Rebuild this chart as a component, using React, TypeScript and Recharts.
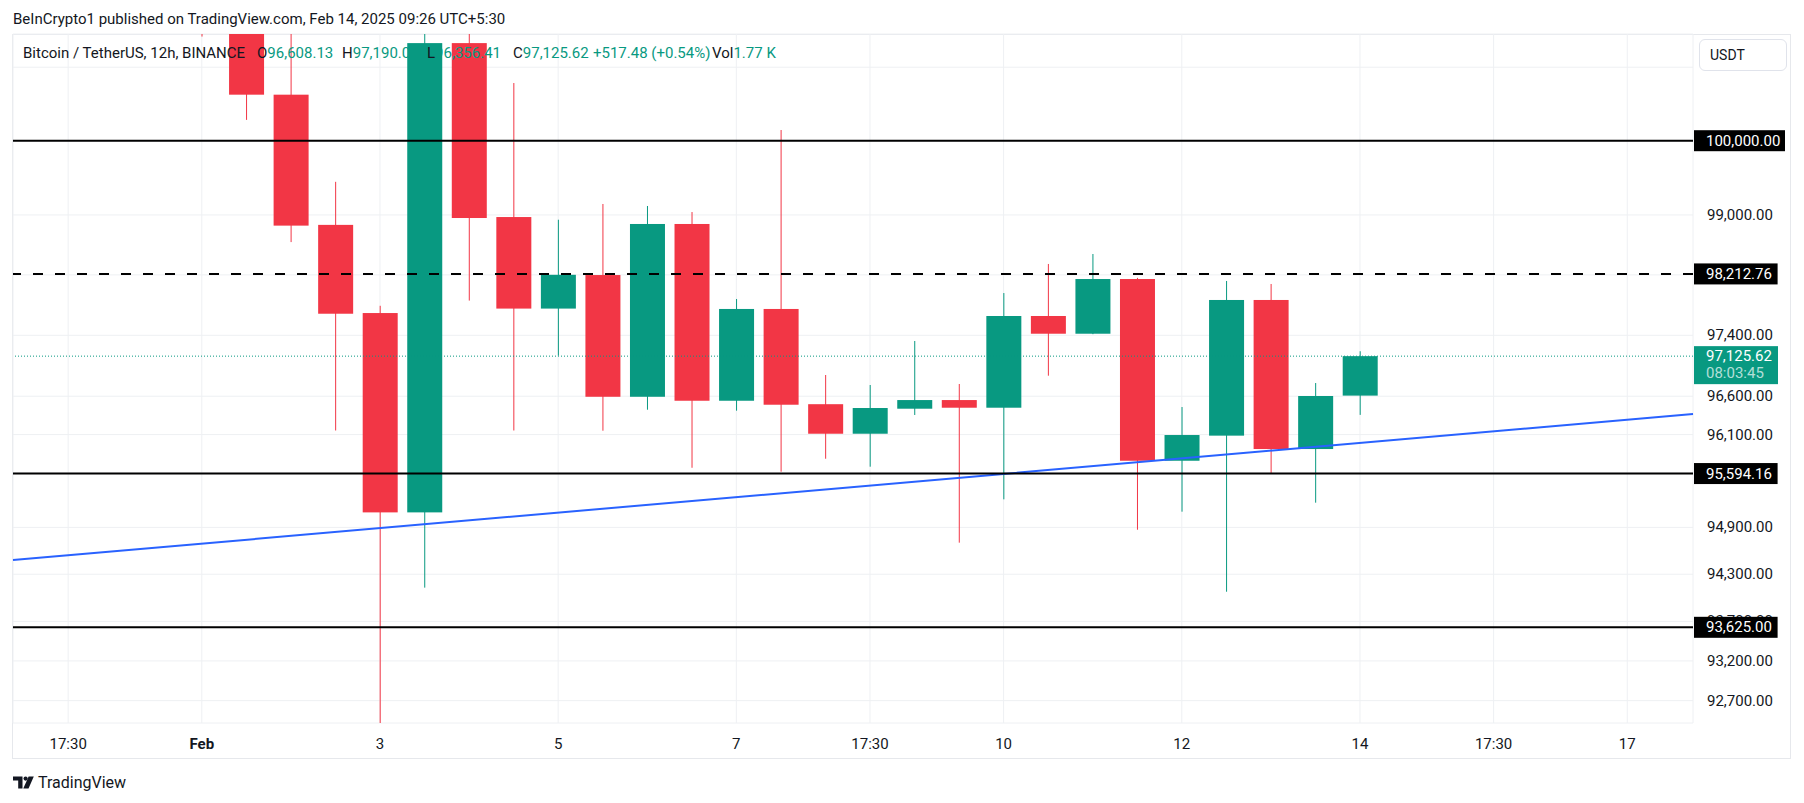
import React from 'react'
import {
  ComposedChart, Bar, XAxis, YAxis, CartesianGrid, ReferenceLine,
} from 'recharts'

// 12h BTCUSDT candles, slot 0 = Feb 1 05:30 (UTC+5:30)
const slots = [0, 1, 2, 3, 4, 5, 6, 7, 8, 9, 10, 11, 12, 13, 14, 15, 16, 17, 18, 19, 20, 21, 22, 23, 24, 25, 26]
const opens = [102430, 101760, 100625, 98867, 97694, 95093, 101330, 98972, 97753, 98198, 96593, 98879, 96541, 97748, 96496, 96111, 96437, 96550, 96450, 97655, 97421, 98145, 95760, 96086, 97867, 95912, 96608.13]
const highs = [102840, 102000, 101500, 99445, 97790, 101800, 102500, 100784, 98936, 99147, 99120, 99039, 97880, 100145, 96878, 96747, 97325, 96760, 97959, 98345, 98478, 98160, 96459, 98119, 98079, 96773, 97190.05]
const lows = [101420, 100282, 98637, 96153, 91230, 94129, 97859, 96153, 97132, 96150, 96424, 95669, 96411, 95618, 95786, 95683, 96355, 94704, 95261, 96869, 97415, 94870, 95102, 94077, 95597, 95218, 96356.41]
const closes = [101760, 100625, 98857, 97685, 95093, 101330, 98959, 97753, 98201, 96593, 98879, 96541, 97748, 96489, 96111, 96446, 96550, 96450, 97655, 97421, 98145, 95760, 96094, 97867, 95912, 96603, 97125.62]

const timeTicks = [-3, 0, 4, 8, 12, 15, 18, 22, 26, 29, 32]
const timeLabels = ['17:30', 'Feb', '3', '5', '7', '17:30', '10', '12', '14', '17:30', '17']
const slotDomain = [-4.238, 33.476]

const priceTicks = [101000, 100000, 99000, 98200, 97400, 96600, 96100, 95600, 94900, 94300, 93700, 93200, 92700]
const hiddenPriceLabels = [101000]
const priceDomain = [92420, 101455]

const levelPrices = [100000, 98212.76, 95594.16, 93625]
const levelLabels = ['100,000.00', '98,212.76', '95,594.16', '93,625.00']
const levelDashed = [false, true, false, false]

const lastPrice = 97125.62
const lastPriceLabel = '97,125.62'
const countdown = '08:03:45'

const trendSlots = [-4.238, 33.476]
const trendPrices = [94482, 96368]

const legendItems = [
  { key: '', val: 'Bitcoin / TetherUS, 12h, BINANCE' },
  { key: 'O', val: '96,608.13' },
  { key: 'H', val: '97,190.05' },
  { key: 'L', val: '96,356.41' },
  { key: 'C', val: '97,125.62' },
  { key: '', val: '+517.48 (+0.54%)' },
  { key: 'Vol', val: '1.77 K' },
]
const legendX = [23, 257, 342, 427, 513, 593, 712]

const GREEN = '#089981'
const RED = '#F23645'
const TEXT = '#131722'
const FONT = 'Roboto, "Noto Sans", sans-serif'

const rows = slots.map((s, i) => ({
  slot: s,
  open: opens[i],
  high: highs[i],
  low: lows[i],
  close: closes[i],
  range: [lows[i], highs[i]],
}))

const CHART_W = 1804
const CHART_H = 803
const MARGIN = { top: 34, left: 13, right: 0, bottom: 0 }

function fmtPrice(v: number) {
  return v.toLocaleString('en-US', { minimumFractionDigits: 2, maximumFractionDigits: 2 })
}

function Candle(props: any) {
  const { x, y, width, height, payload } = props
  if (x == null || y == null || !payload) return null
  const top = Math.min(y, y + height)
  const bottom = Math.max(y, y + height)
  const lh = Math.log(payload.high)
  const span = lh - Math.log(payload.low)
  // log scale: position is linear in ln(price) between the wick ends
  const at = (p: number) => top + ((lh - Math.log(p)) / span) * (bottom - top)
  const color = payload.close >= payload.open ? GREEN : RED
  const cx = x + width / 2
  const yo = at(payload.open)
  const yc = at(payload.close)
  return (
    <g>
      <line x1={cx} x2={cx} y1={top} y2={bottom} stroke={color} strokeWidth={1} />
      <rect x={x} y={Math.min(yo, yc)} width={width} height={Math.max(1, Math.abs(yc - yo))} fill={color} />
    </g>
  )
}

function TimeTick(props: any) {
  const { x, y, payload } = props
  const idx = timeTicks.indexOf(payload.value)
  const label = timeLabels[idx] ?? ''
  return (
    <text x={x} y={y + 19} textAnchor="middle" dominantBaseline="central"
      fontSize={15} fontFamily={FONT} fill={TEXT} fontWeight={label === 'Feb' ? 700 : 400}>
      {label}
    </text>
  )
}

function PriceTick(props: any) {
  const { x, y, payload } = props
  if (hiddenPriceLabels.includes(payload.value)) return null
  return (
    <text x={x + 12} y={y} textAnchor="start" dominantBaseline="central"
      fontSize={15} fontFamily={FONT} fill={TEXT}>
      {fmtPrice(payload.value)}
    </text>
  )
}

function PriceTag(props: any) {
  const { viewBox, text } = props
  if (!viewBox) return null
  const x0 = viewBox.x + viewBox.width + 1
  const yc = viewBox.y
  const w = text.length * 7.4 + 17
  return (
    <g>
      <rect x={x0} y={yc - 10.5} width={w} height={21} fill="#000" />
      <text x={x0 + 12} y={yc} dominantBaseline="central" fontSize={15} fontFamily={FONT} fill="#fff">{text}</text>
    </g>
  )
}

function LastTag(props: any) {
  const { viewBox } = props
  if (!viewBox) return null
  const x0 = viewBox.x + viewBox.width + 1
  const yc = viewBox.y
  return (
    <g>
      <rect x={x0} y={yc - 10} width={84} height={38} fill={GREEN} />
      <text x={x0 + 12} y={yc} dominantBaseline="central" fontSize={15} fontFamily={FONT} fill="#fff">{lastPriceLabel}</text>
      <text x={x0 + 12} y={yc + 17} dominantBaseline="central" fontSize={15} fontFamily={FONT} fill="rgba(255,255,255,0.7)">{countdown}</text>
    </g>
  )
}

export default function App() {
  return (
    <div style={{ position: 'relative', width: 1804, height: 803, background: '#fff', fontFamily: FONT, color: TEXT, overflow: 'hidden' }}>
      <style>{'body{margin:0}'}</style>

      <div style={{ position: 'absolute', left: 13, top: 9, fontSize: 15, lineHeight: '20px', whiteSpace: 'nowrap' }}>
        BeInCrypto1 published on TradingView.com, Feb 14, 2025 09:26 UTC+5:30
      </div>

      <div style={{ position: 'absolute', left: 12, top: 34, width: 1779, height: 725, border: '1px solid #E6E8EC', boxSizing: 'border-box' }} />

      {/* base layer: grid, axes, candles, trend line */}
      <div style={{ position: 'absolute', left: 0, top: 0 }}>
        <ComposedChart width={CHART_W} height={CHART_H} data={rows} margin={MARGIN}>
          <CartesianGrid stroke="#EEF0F3" />
          <XAxis dataKey="slot" type="number" domain={slotDomain} allowDataOverflow ticks={timeTicks}
            interval={0} height={80} tickSize={0} tickLine={false} axisLine={false} tick={<TimeTick />} />
          <YAxis orientation="right" type="number" scale="log" domain={priceDomain} allowDataOverflow
            ticks={priceTicks} interval={0} width={111} tickSize={0} tickLine={false} axisLine={false} tick={<PriceTick />} />
          <Bar dataKey="range" barSize={35} isAnimationActive={false} shape={<Candle />} />
          <ReferenceLine
            segment={[{ x: trendSlots[0], y: trendPrices[0] }, { x: trendSlots[1], y: trendPrices[1] }]}
            stroke="#2962FF" strokeWidth={2} ifOverflow="visible" />
        </ComposedChart>
      </div>

      {/* top layer: horizontal levels and their price tags above the axis labels */}
      <div style={{ position: 'absolute', left: 0, top: 0 }}>
        <ComposedChart width={CHART_W} height={CHART_H} data={rows} margin={MARGIN}>
          <XAxis dataKey="slot" type="number" domain={slotDomain} allowDataOverflow ticks={timeTicks}
            height={80} tick={false} tickLine={false} axisLine={false} />
          <YAxis orientation="right" type="number" scale="log" domain={priceDomain} allowDataOverflow
            ticks={priceTicks} width={111} tick={false} tickLine={false} axisLine={false} />
          <ReferenceLine y={lastPrice} stroke={GREEN} strokeWidth={1} strokeDasharray="1 2" label={<LastTag />} />
          {levelPrices.map((p, i) => (
            <ReferenceLine key={p} y={p} stroke="#000" strokeWidth={2}
              strokeDasharray={levelDashed[i] ? '10 12' : undefined}
              label={<PriceTag text={levelLabels[i]} />} />
          ))}
        </ComposedChart>
      </div>

      {legendItems.map((it, i) => (
        <div key={i} style={{ position: 'absolute', left: legendX[i], top: 43, fontSize: 15, lineHeight: '20px', whiteSpace: 'nowrap' }}>
          {it.key && <span style={{ color: TEXT }}>{it.key}</span>}
          <span style={{ color: i === 0 ? TEXT : GREEN }}>{it.val}</span>
        </div>
      ))}

      <div style={{ position: 'absolute', left: 1699, top: 39, width: 88, height: 32, border: '1px solid #E0E3EB', borderRadius: 6, boxSizing: 'border-box', background: '#fff', display: 'flex', alignItems: 'center', paddingLeft: 10, fontSize: 14 }}>
        USDT
      </div>

      <div style={{ position: 'absolute', left: 13, top: 772, display: 'flex', alignItems: 'center', height: 20 }}>
        <svg width={21} height={13} viewBox="0 0 21 13">
          <path d="M0 0.5h9.5v12H5.2V4.6H0z" fill={TEXT} />
          <circle cx={12.6} cy={2.6} r={2.1} fill={TEXT} />
          <path d="M15.6 0.5h5.2l-5.3 12h-5.2z" fill={TEXT} />
        </svg>
        <span style={{ marginLeft: 4, fontSize: 16, color: TEXT }}>TradingView</span>
      </div>
    </div>
  )
}
